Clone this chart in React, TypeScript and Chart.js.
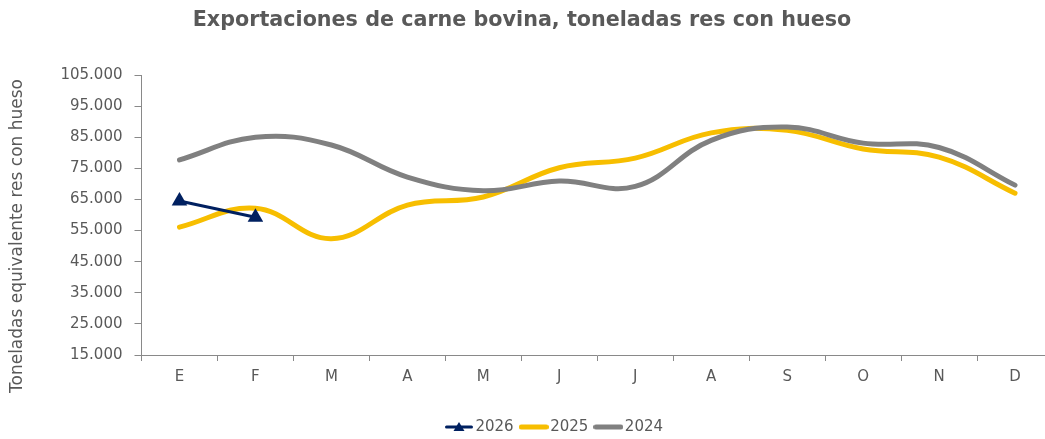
import React, { useEffect, useRef } from 'react';
import { Chart, registerables } from 'chart.js';

Chart.register(...registerables);

const months = ['E', 'F', 'M', 'A', 'M', 'J', 'J', 'A', 'S', 'O', 'N', 'D'];
const seriesNames = ['2026', '2025', '2024'];
const values2026 = [64500, 59300];
const values2025 = [56100, 62200, 52400, 63200, 65800, 75200, 78300, 86400, 87200, 81200, 78600, 67000];
const values2024 = [77700, 85000, 82500, 72200, 67800, 70900, 69200, 84000, 88300, 83100, 81700, 69600];
const yMin = 15000;
const yMax = 105000;
const yStep = 10000;

const TITLE = 'Exportaciones de carne bovina, toneladas res con hueso';
const Y_TITLE = 'Toneladas equivalente res con hueso';

const NAVY = '#002060';
const GOLD = '#F7BE00';
const GREY = '#808080';
const TEXT = '#595959';
const AXIS = '#898989';
const FONT = '"DejaVu Sans", sans-serif';

const CANVAS_W = 1062;
const CANVAS_H = 439;

function fmt(v: number): string {
  return Math.round(v).toString().replace(/\B(?=(\d{3})+(?!\d))/g, '.');
}

function legendImage(color: string, width: number, triangle: boolean): HTMLCanvasElement {
  const c = document.createElement('canvas');
  c.width = 30;
  c.height = 14;
  const ctx = c.getContext('2d')!;
  ctx.strokeStyle = color;
  ctx.lineWidth = width;
  ctx.lineCap = 'round';
  ctx.beginPath();
  ctx.moveTo(2.5, 7);
  ctx.lineTo(27.5, 7);
  ctx.stroke();
  if (triangle) {
    ctx.fillStyle = color;
    ctx.beginPath();
    ctx.moveTo(15, 2);
    ctx.lineTo(20.5, 11);
    ctx.lineTo(9.5, 11);
    ctx.closePath();
    ctx.fill();
  }
  return c;
}

const tweakPlugin = {
  id: 'tweakPlugin',
  afterLayout(chart: any) {
    const titleShift = 522 - chart.width / 2;
    const t = chart.titleBlock;
    if (t) {
      t.left += titleShift;
      t.right += titleShift;
    }
    const legendShift = 30 - (chart.width - 1053) / 2;
    const l = chart.legend;
    if (l) {
      l.left += legendShift;
      l.right += legendShift;
      l.top += 5.5;
      l.bottom += 5.5;
    }
  },
  afterDraw(chart: any) {
    const ctx = chart.ctx;
    ctx.save();
    ctx.translate(18, 236);
    ctx.rotate(-Math.PI / 2);
    ctx.font = '17px ' + FONT;
    ctx.fillStyle = TEXT;
    ctx.textAlign = 'center';
    ctx.textBaseline = 'middle';
    ctx.fillText(Y_TITLE, 0, 0);
    ctx.restore();
  },
};

export default function App() {
  const ref = useRef<HTMLCanvasElement | null>(null);

  useEffect(() => {
    document.documentElement.style.overflow = 'hidden';
    document.body.style.margin = '0';
    document.body.style.overflow = 'hidden';
    if (!ref.current) return;
    const images = [legendImage(NAVY, 3, true), legendImage(GOLD, 5, false), legendImage(GREY, 5, false)];
    const chart = new Chart(ref.current, {
      type: 'line',
      data: {
        labels: months,
        datasets: [
          {
            label: seriesNames[0],
            data: values2026,
            borderColor: NAVY,
            backgroundColor: NAVY,
            borderWidth: 3,
            tension: 0,
            pointStyle: 'triangle',
            pointRadius: 9,
            pointBorderWidth: 0,
            pointBackgroundColor: NAVY,
            pointBorderColor: NAVY,
            order: 0,
          },
          {
            label: seriesNames[1],
            data: values2025,
            borderColor: GOLD,
            backgroundColor: GOLD,
            borderWidth: 5,
            tension: 0.4,
            pointRadius: 0,
            borderCapStyle: 'round',
            borderJoinStyle: 'round',
            order: 2,
          },
          {
            label: seriesNames[2],
            data: values2024,
            borderColor: GREY,
            backgroundColor: GREY,
            borderWidth: 5,
            tension: 0.4,
            pointRadius: 0,
            borderCapStyle: 'round',
            borderJoinStyle: 'round',
            order: 1,
          },
        ],
      },
      options: {
        animation: false,
        responsive: false,
        layout: { padding: 0 },
        plugins: {
          title: {
            display: true,
            text: TITLE,
            color: TEXT,
            font: { family: FONT, size: 20.7, weight: 'bold' },
            padding: { top: 8, bottom: 42.16 },
          },
          legend: {
            display: true,
            position: 'bottom',
            labels: {
              usePointStyle: true,
              pointStyleWidth: 18,
              padding: 11,
              color: TEXT,
              font: { family: FONT, size: 15 },
              generateLabels: () =>
                seriesNames.map((name, i) => ({
                  text: name,
                  pointStyle: images[i],
                  fillStyle: 'rgba(0,0,0,0)',
                  strokeStyle: 'rgba(0,0,0,0)',
                  lineWidth: 0,
                  hidden: false,
                  datasetIndex: i,
                  fontColor: TEXT,
                })),
            },
          },
          tooltip: { enabled: false },
        },
        scales: {
          x: {
            type: 'category',
            offset: true,
            grid: { drawOnChartArea: false, drawTicks: true, tickLength: 6, offset: true, color: AXIS },
            border: { color: AXIS, width: 1 },
            ticks: { color: TEXT, padding: 7, font: { family: FONT, size: 15 }, maxRotation: 0 },
            afterFit: (scale: any) => {
              scale.height = 48;
            },
          },
          y: {
            min: yMin,
            max: yMax,
            grid: { drawOnChartArea: false, drawTicks: true, tickLength: 7, color: AXIS },
            border: { color: AXIS, width: 1 },
            ticks: {
              stepSize: yStep,
              color: TEXT,
              padding: 12,
              font: { family: FONT, size: 15 },
              callback: (v: any) => fmt(Number(v)),
            },
            afterFit: (scale: any) => {
              scale.width = 141.5;
            },
          },
        },
      },
      plugins: [tweakPlugin],
    });
    return () => chart.destroy();
  }, []);

  return (
    <div style={{ width: CANVAS_W, height: CANVAS_H, position: 'relative' }}>
      <canvas ref={ref} width={CANVAS_W} height={CANVAS_H} style={{ display: 'block' }} />
    </div>
  );
}
